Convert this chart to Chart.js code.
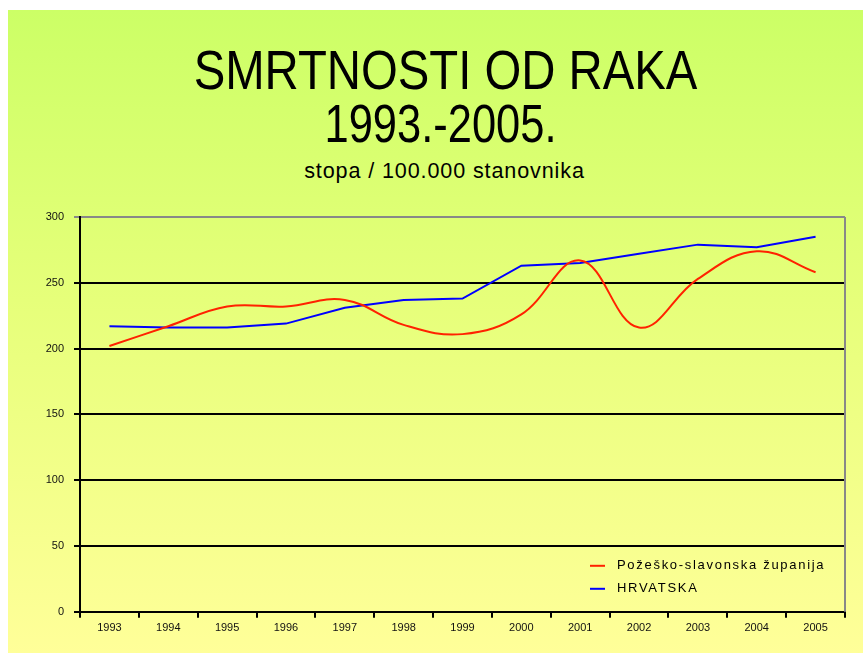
<!DOCTYPE html>
<html>
<head>
<meta charset="utf-8">
<script src="https://cdn.jsdelivr.net/npm/chart.js@4.4.1/dist/chart.umd.min.js"></script>
<style>
  html, body { margin: 0; padding: 0; background: #fff; }
  body { width: 863px; height: 653px; position: relative; overflow: hidden; }
  #panel {
    position: absolute; left: 8px; top: 10px; width: 855px; height: 643px;
    background: linear-gradient(to bottom, #ccff66 0%, #e6ff7a 45%, #ffff99 100%);
  }
  .t { position: absolute; left: 0; width: 100%; text-align: center; color: #000;
       font-family: "Liberation Sans", Arial, sans-serif; white-space: nowrap; }
  #t1 { top: 30px; left: 10px; font-size: 55px; line-height: 60px; transform: scaleX(0.86); }
  #t2 { top: 84px; left: 5px; font-size: 53px; line-height: 60px; transform: scaleX(0.82); }
  #t3 { top: 147px; left: 9px; font-size: 22px; line-height: 28px; letter-spacing: 0.9px; transform: scaleX(0.98); }
  #wrap { position: absolute; left: 0; top: 190px; width: 855px; height: 453px; }
</style>
</head>
<body>
<div id="panel">
  <div class="t" id="t1">SMRTNOSTI OD RAKA</div>
  <div class="t" id="t2">1993.-2005.</div>
  <div class="t" id="t3">stopa / 100.000 stanovnika</div>
  <div id="wrap"><canvas id="rakChart" width="855" height="453"></canvas></div>
</div>
<script>
// Data
const years = ["1993", "1994", "1995", "1996", "1997", "1998", "1999",
               "2000", "2001", "2002", "2003", "2004", "2005"];
const pozesko = [202, 217, 232, 232, 237, 218, 211, 226, 267, 216, 253, 274, 258];
const hrvatska = [217, 216, 216, 219, 231, 237, 238, 263, 265, 272, 279, 277, 285];
const yTicks = [0, 50, 100, 150, 200, 250, 300];

// Legend drawn inside the plot, bottom right
const innerLegend = {
  id: "innerLegend",
  afterDatasetsDraw(chart) {
    const ctx = chart.ctx;
    const area = chart.chartArea;
    ctx.save();
    ctx.font = "13px 'Liberation Sans', Arial, sans-serif";
    ctx.letterSpacing = "1.7px";
    ctx.textBaseline = "middle";
    chart.data.datasets.forEach(function (ds, i) {
      const x = area.right - 255;
      const y = area.bottom - 46 + i * 23;
      ctx.strokeStyle = ds.borderColor;
      ctx.lineWidth = 2;
      ctx.beginPath();
      ctx.moveTo(x, y);
      ctx.lineTo(x + 15, y);
      ctx.stroke();
      ctx.fillStyle = "#000";
      ctx.fillText(ds.label, x + 27, y);
    });
    ctx.restore();
  },
  beforeDatasetsDraw(chart) {
    // gray right border of the plot
    const ctx = chart.ctx;
    const area = chart.chartArea;
    ctx.save();
    ctx.strokeStyle = "#888";
    ctx.lineWidth = 2;
    ctx.beginPath();
    ctx.moveTo(area.right, area.top);
    ctx.lineTo(area.right, area.bottom);
    ctx.stroke();
    ctx.restore();
  },
};

const rakCtx = document.getElementById("rakChart").getContext("2d");
const rakChart = new Chart(rakCtx, {
  type: "line",
  data: {
    labels: years,
    datasets: [
      {
        label: "Požeško-slavonska županija",
        data: pozesko,
        borderColor: "#ff2200",
        borderWidth: 2,
        pointRadius: 0,
        tension: 0.4,
        fill: false,
      },
      {
        label: "HRVATSKA",
        data: hrvatska,
        borderColor: "#0000ff",
        borderWidth: 2,
        pointRadius: 0,
        tension: 0,
        fill: false,
      },
    ],
  },
  options: {
    responsive: false,
    animation: false,
    layout: { padding: { top: 17, right: 18, bottom: 14, left: 0 } },
    plugins: {
      legend: { display: false },
      tooltip: { enabled: false },
    },
    scales: {
      x: {
        offset: true,
        grid: {
          offset: true,
          drawOnChartArea: false,
          color: "#000",
          tickLength: 6,
          lineWidth: 2,
        },
        border: { color: "#000", width: 2 },
        ticks: {
          color: "#111",
          font: { family: "'Liberation Sans', Arial, sans-serif", size: 11 },
          padding: 4,
          maxRotation: 0,
        },
      },
      y: {
        min: 0,
        max: 300,
        afterBuildTicks(axis) {
          axis.ticks = yTicks.map((v) => ({ value: v }));
        },
        afterFit(axis) {
          axis.width = 72;
        },
        grid: {
          color: (c) => (c.tick && c.tick.value === 300 ? "#888" : "#000"),
          lineWidth: 2,
          tickLength: 6,
        },
        border: { color: "#000", width: 2 },
        ticks: {
          color: "#111",
          font: { family: "'Liberation Sans', Arial, sans-serif", size: 11 },
          padding: 10,
        },
      },
    },
  },
  plugins: [innerLegend],
});
</script>
</body>
</html>
